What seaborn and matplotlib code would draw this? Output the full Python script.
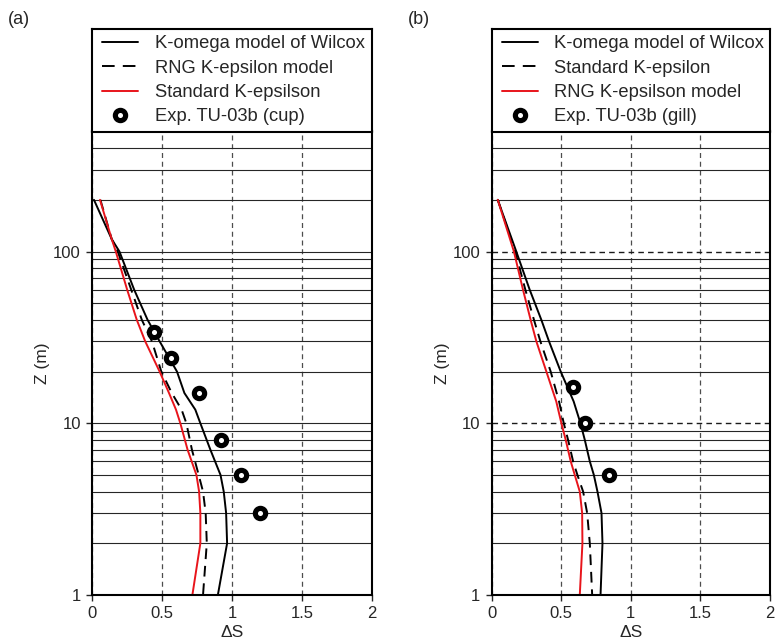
import numpy as np
import pandas as pd
import matplotlib
matplotlib.use("Agg")
import matplotlib.pyplot as plt
from matplotlib.ticker import LogLocator, FixedLocator, NullFormatter, FixedFormatter
from matplotlib.lines import Line2D
import seaborn as sns

# ---- data -------------------------------------------------------------
# (a) cup anemometer comparison
z_a = [200, 118, 100, 60, 40, 30, 20, 15, 12, 10, 7, 5, 4, 3, 2, 1]
komega_a = [0.014, 0.141, 0.196, 0.301, 0.397, 0.483, 0.607, 0.66, 0.738, 0.774,
            0.846, 0.918, 0.941, 0.958, 0.965, 0.899]
rng_a = [0.06, 0.141, 0.184, 0.28, 0.356, 0.428, 0.495, 0.57, 0.64, 0.674,
         0.714, 0.762, 0.793, 0.812, 0.82, 0.793]
std_a = [0.057, 0.141, 0.17, 0.251, 0.32, 0.38, 0.483, 0.55, 0.6, 0.631,
         0.683, 0.746, 0.765, 0.774, 0.774, 0.717]
exp_z_a = [34, 24, 15, 8, 5, 3]
exp_s_a = [0.444, 0.564, 0.767, 0.92, 1.066, 1.2]

# (b) gill anemometer comparison
z_b = [200, 100, 60, 40, 30, 20, 13.4, 10, 8, 6, 5, 4, 3, 2, 1]
komega_b = [0.045, 0.178, 0.274, 0.358, 0.413, 0.497, 0.59, 0.639, 0.67, 0.706,
            0.735, 0.761, 0.79, 0.797, 0.783]
std_b = [0.045, 0.17, 0.243, 0.305, 0.351, 0.425, 0.485, 0.519, 0.55, 0.586,
         0.617, 0.658, 0.687, 0.706, 0.723]
rng_b = [0.045, 0.161, 0.226, 0.281, 0.322, 0.394, 0.465, 0.502, 0.533, 0.569,
         0.598, 0.634, 0.651, 0.653, 0.634]
exp_z_b = [16.2, 10, 5]
exp_s_b = [0.586, 0.67, 0.843]

x_ticks = [0, 0.5, 1, 1.5, 2]
x_tick_labels = ["0", "0.5", "1", "1.5", "2"]
y_ticks = [1, 10, 100]
y_tick_labels = ["1", "10", "100"]

# ---- style ------------------------------------------------------------
sns.set_style("ticks")
plt.rcParams["font.family"] = ["Liberation Sans", "DejaVu Sans"]
plt.rcParams["axes.linewidth"] = 1.5

W, H = 777, 643
fig = plt.figure(figsize=(W / 100, H / 100), dpi=100)

DASH = (0, (5.5, 3.5))
KEY_DASH = (0, (6.5, 4.2))


def frac_box(x0, y0, x1, y1):
    return [x0 / W, 1 - y1 / H, (x1 - x0) / W, (y1 - y0) / H]


def draw_panel(x0, x1, curves, exp_z, exp_s, exp_label, tag, dashed_major):
    ax = fig.add_axes(frac_box(x0, 131.5, x1, 595))
    lax = fig.add_axes(frac_box(x0, 29, x1, 131.5))

    ax.set_yscale("log")
    handles = []
    for z, s, color, ls, label in curves:
        df = pd.DataFrame({"dS": s, "Z": z})
        sns.lineplot(data=df, x="dS", y="Z", sort=False, estimator=None,
                     color=color, linewidth=1.4, ax=ax, legend=False)
        ln = ax.lines[-1]
        if ls == "dashed":
            ln.set_linestyle(DASH)
        handles.append(Line2D([], [], color=color, lw=1.4,
                              linestyle=KEY_DASH if ls == "dashed" else "-",
                              label=label))

    edf = pd.DataFrame({"dS": exp_s, "Z": exp_z})
    sns.scatterplot(data=edf, x="dS", y="Z", marker="o", s=55,
                    facecolor="white", edgecolor="black", linewidth=3.7,
                    ax=ax, zorder=5, legend=False)
    handles.append(Line2D([], [], marker="o", linestyle="none", markersize=7.4,
                          markerfacecolor="white", markeredgecolor="black",
                          markeredgewidth=3.7, label=exp_label))

    ax.set_xlim(0, 2)
    ax.set_ylim(1, 500)
    ax.xaxis.set_major_locator(FixedLocator(x_ticks))
    ax.xaxis.set_major_formatter(FixedFormatter(x_tick_labels))
    ax.yaxis.set_major_locator(FixedLocator(y_ticks))
    ax.yaxis.set_major_formatter(FixedFormatter(y_tick_labels))
    ax.yaxis.set_minor_locator(LogLocator(base=10, subs=np.arange(2, 10)))
    ax.yaxis.set_minor_formatter(NullFormatter())
    ax.tick_params(axis="both", which="major", labelsize=12, length=4,
                   width=1.0, pad=4, direction="out")
    ax.tick_params(axis="y", which="minor", length=0)

    # height levels
    ax.grid(True, which="minor", axis="y", color="0.15", linewidth=0.8,
            linestyle="-")
    if dashed_major:
        ax.grid(True, which="major", axis="y", color="0.1", linewidth=1.0,
                linestyle=(0, (4, 3)))
    else:
        ax.grid(True, which="major", axis="y", color="0.15", linewidth=0.8,
                linestyle="-")
    ax.grid(True, which="major", axis="x", color="0.3", linewidth=0.9,
            linestyle=(0, (4, 3)))
    ax.set_axisbelow(True)

    ax.set_xlabel("\u0394S", fontsize=12.5, labelpad=3)
    ax.set_ylabel("Z (m)", fontsize=12.5, labelpad=2)
    for sp in ax.spines.values():
        sp.set_visible(True)
        sp.set_linewidth(1.5)
        sp.set_color("black")

    lax.set_xticks([])
    lax.set_yticks([])
    for sp in lax.spines.values():
        sp.set_visible(True)
        sp.set_linewidth(1.5)
        sp.set_color("black")
    lax.legend(handles=handles, loc="upper left",
               bbox_to_anchor=(3.0 / (x1 - x0), 1.01),
               frameon=False, fontsize=13.2, handlelength=1.95,
               handletextpad=0.9, labelspacing=0.4, borderaxespad=0.0,
               borderpad=0.4)

    fig.text((x0 - 84) / W, 1 - 20 / H, tag, fontsize=13, va="center",
             ha="left")
    return ax


draw_panel(92, 372,
           [(z_a, komega_a, "black", "solid", "K-omega model of Wilcox"),
            (z_a, rng_a, "black", "dashed", "RNG K-epsilon model"),
            (z_a, std_a, "#e8141b", "solid", "Standard K-epsilson")],
           exp_z_a, exp_s_a, "Exp. TU-03b (cup)", "(a)", False)

draw_panel(491.5, 770,
           [(z_b, komega_b, "black", "solid", "K-omega model of Wilcox"),
            (z_b, std_b, "black", "dashed", "Standard K-epsilon"),
            (z_b, rng_b, "#e8141b", "solid", "RNG K-epsilson model")],
           exp_z_b, exp_s_b, "Exp. TU-03b (gill)", "(b)", True)

fig.savefig("out.png", dpi=100)
